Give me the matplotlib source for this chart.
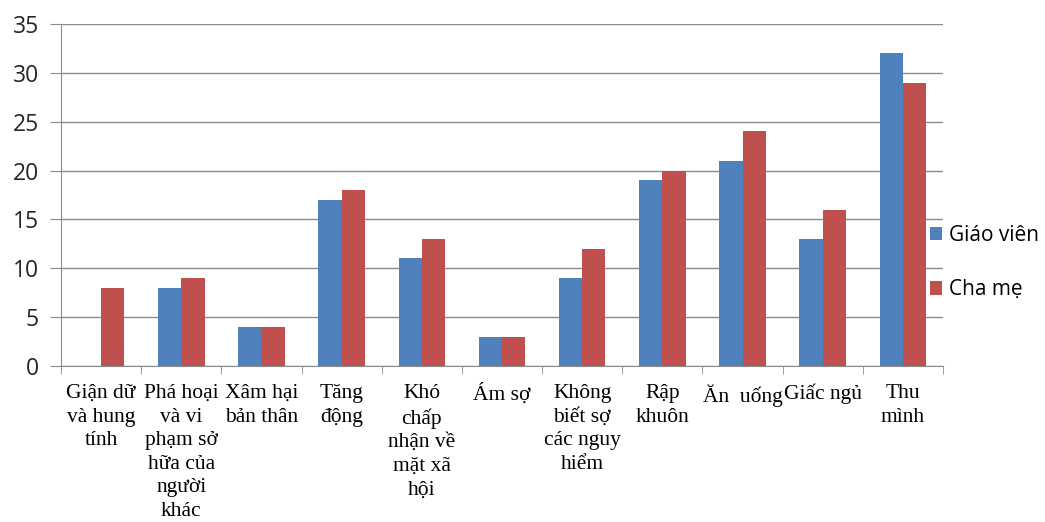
import numpy as np
import matplotlib.pyplot as plt

categories = ['Giận dữ\nvà hung\ntính', 'Phá hoại\nvà vi\nphạm sở\nhữa của\nngười\nkhác',
              'Xâm hại\nbản thân', 'Tăng\nđộng', 'Khó\nchấp\nnhận về\nmặt xã\nhội', 'Ám sợ',
              'Không\nbiết sợ\ncác nguy\nhiểm', 'Rập\nkhuôn', 'Ăn  uống', 'Giấc ngủ', 'Thu\nmình']
giao_vien = [0, 8, 4, 17, 11, 3, 9, 19, 21, 13, 32]
cha_me = [8, 9, 4, 18, 13, 3, 12, 20, 24, 16, 29]
series_names = ['Giáo viên', 'Cha mẹ']
yticks = [0, 5, 10, 15, 20, 25, 30, 35]

fig = plt.figure(figsize=(10.45, 5.22), dpi=100)
ax = fig.add_axes([0.0584, 0.299, 0.844, 0.655])

x = np.arange(len(categories))
w = 0.29
ax.bar(x - w / 2, giao_vien, w, color='#4F81BD', label=series_names[0], zorder=3)
ax.bar(x + w / 2, cha_me, w, color='#C0504D', label=series_names[1], zorder=3)

ax.set_xlim(-0.5, len(categories) - 0.5)
ax.set_ylim(0, 35)
ax.set_yticks(yticks)
ax.yaxis.grid(True, color='#8c8c8c', linewidth=1, zorder=0)
for s in ['top', 'right']:
    ax.spines[s].set_visible(False)
ax.spines['left'].set_color('#8c8c8c')
ax.spines['bottom'].set_color('#8c8c8c')
ax.tick_params(axis='y', length=8, color='#8c8c8c', labelsize=16.5, pad=8)
for lab in ax.get_yticklabels():
    lab.set_family(['Open Sans', 'DejaVu Sans'])
    lab.set_color('#262626')

ax.set_xticks(x)
ax.set_xticklabels(categories, family='Liberation Serif', fontsize=15.5,
                   linespacing=1.33, va='top')
ax.tick_params(axis='x', length=0, pad=13)
ax.set_xticks(np.arange(-0.5, len(categories), 1), minor=True)
ax.tick_params(axis='x', which='minor', length=6, color='#8c8c8c')

fig.legend(loc='center left', bbox_to_anchor=(0.872, 0.497), frameon=False,
           prop={'family': ['Open Sans', 'DejaVu Sans'], 'size': 15},
           handlelength=0.6, handleheight=0.6, handletextpad=0.3, labelspacing=1.6)

fig.savefig('out.png', dpi=100)
